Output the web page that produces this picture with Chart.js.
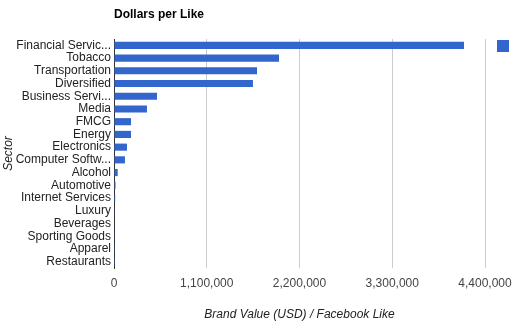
<!DOCTYPE html>
<html>
<head>
<meta charset="utf-8">
<script src="https://cdn.jsdelivr.net/npm/chart.js@4/dist/chart.umd.min.js"></script>
<style>
html,body{margin:0;padding:0;background:#fff;}
#wrap{width:527px;height:333px;position:relative;}
</style>
</head>
<body>
<div id="wrap"><canvas id="c" width="527" height="333"></canvas></div>
<script>
const chartTitle = "Dollars per Like";
const categories = ["Financial Servic...","Tobacco","Transportation","Diversified","Business Servi...","Media","FMCG","Energy","Electronics","Computer Softw...","Alcohol","Automotive","Internet Services","Luxury","Beverages","Sporting Goods","Apparel","Restaurants"];
const dollarsPerLike = [4151000,1957000,1696000,1648000,510000,391000,202000,202000,154000,130000,44000,18000,14000,8000,6000,4000,3000,2000];
const xTicks = [0,1100000,2200000,3300000,4400000];
const xAxisTitle = "Brand Value (USD) / Facebook Like";
const yAxisTitle = "Sector";

const FONT = '"Liberation Sans", Arial, sans-serif';
Chart.defaults.font.family = FONT;
Chart.defaults.font.size = 12;

const titleAndLegend = {
  id: 'titleAndLegend',
  afterDraw(chart) {
    const ctx = chart.ctx;
    const a = chart.chartArea;
    ctx.save();
    ctx.font = 'bold 12px ' + FONT;
    ctx.fillStyle = '#000';
    ctx.textAlign = 'left';
    ctx.textBaseline = 'middle';
    ctx.fillText(chartTitle, a.left, 15);
    ctx.fillStyle = chart.data.datasets[0].backgroundColor;
    ctx.fillRect(497, 40, 12, 12);
    ctx.restore();
  }
};

new Chart(document.getElementById('c'), {
  type: 'bar',
  data: {
    labels: categories,
    datasets: [{
      label: '',
      data: dollarsPerLike,
      backgroundColor: '#3366cc',
      borderWidth: 0,
      barPercentage: 0.56,
      categoryPercentage: 1
    }]
  },
  options: {
    indexAxis: 'y',
    responsive: false,
    animation: false,
    layout: { padding: { top: 39, right: 42, bottom: 11, left: 0 } },
    plugins: { legend: { display: false }, title: { display: false }, tooltip: { enabled: false } },
    scales: {
      x: {
        type: 'linear',
        min: 0, max: 4400000,
        afterBuildTicks(scale) { scale.ticks = xTicks.map(v => ({ value: v })); },
        afterFit(scale) { scale.height = 333 - 11 - 268; },
        ticks: {
          color: '#444', padding: 8, maxRotation: 0,
          callback: v => Number(v).toLocaleString('en-US')
        },
        grid: { color: '#cccccc', drawTicks: false, lineWidth: 1 },
        border: { display: false },
        title: { display: true, text: xAxisTitle, color: '#222', font: { style: 'italic', size: 12 }, padding: { top: 0, bottom: 0 } }
      },
      y: {
        type: 'category',
        afterFit(scale) { scale.width = 114; },
        ticks: { color: '#222', padding: 3, autoSkip: false },
        grid: { display: false, drawTicks: false },
        border: { display: true, color: '#333', width: 1 },
        title: { display: true, text: yAxisTitle, color: '#222', font: { style: 'italic', size: 12 }, padding: { top: 1, bottom: 0 } }
      }
    }
  },
  plugins: [titleAndLegend]
});
</script>
</body>
</html>
